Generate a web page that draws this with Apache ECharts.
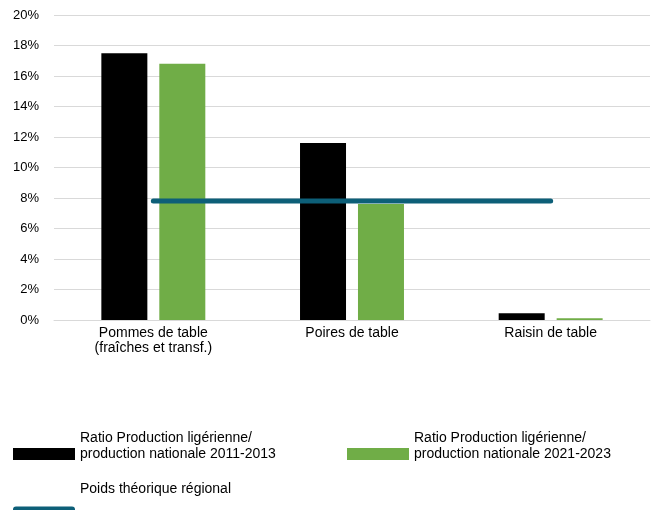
<!DOCTYPE html>
<html>
<head>
<meta charset="utf-8">
<script src="https://cdn.jsdelivr.net/npm/echarts@6/dist/echarts.min.js"></script>
<style>
  html, body { margin: 0; padding: 0; background: #fff; }
  #chart { width: 660px; height: 510px; }
</style>
</head>
<body>
<div id="chart"></div>
<script>
var categories = ['Pommes de table\n(fraîches et transf.)', 'Poires de table', 'Raisin de table'];
var ratio2011 = [17.5, 11.6, 0.45];
var ratio2021 = [16.8, 7.6, 0.12];
var poidsRegional = [7.8, 7.8, 7.8];
var yTicks = [0, 2, 4, 6, 8, 10, 12, 14, 16, 18, 20];

var font = 'Liberation Sans';
var teal = '#0d5f78';
var chart = echarts.init(document.getElementById('chart'));

var legendText = { fontFamily: font, fontSize: 14, color: '#000', lineHeight: 16 };

var option = {
  animation: false,
  grid: { left: 54, right: 10, top: 15, height: 305 },
  legend: [{
    data: [{ name: 's1', icon: 'rect' }], left: 8, top: 425, itemWidth: 62, itemHeight: 12, itemGap: 6,
    formatter: function () { return 'Ratio Production ligérienne/\nproduction nationale 2011-2013\n '; },
    textStyle: legendText
  }, {
    data: [{ name: 's2', icon: 'rect' }], left: 342, top: 425, itemWidth: 62, itemHeight: 12,
    formatter: function () { return 'Ratio Production ligérienne/\nproduction nationale 2021-2023\n '; },
    textStyle: legendText
  }, {
    data: [{ name: 's3', icon: 'roundRect', itemStyle: { color: teal, borderWidth: 0 } }],
    left: 8, top: 473, itemWidth: 62, itemHeight: 12,
    itemStyle: { color: teal },
    lineStyle: { width: 0 },
    formatter: function () { return 'Poids théorique régional\n \n '; },
    textStyle: Object.assign({}, legendText, { lineHeight: 23 })
  }],
  xAxis: {
    type: 'category',
    data: categories,
    axisTick: { show: false },
    axisLine: { lineStyle: { color: '#d9d9d9', width: 1 } },
    axisLabel: { fontFamily: font, fontSize: 14, color: '#000', lineHeight: 15, margin: 6 }
  },
  yAxis: {
    type: 'value',
    min: 0, max: 20, interval: 2,
    axisLabel: {
      fontFamily: font, fontSize: 13, color: '#000', margin: 15,
      formatter: function (v) { return yTicks.indexOf(v) >= 0 ? v + '%' : ''; }
    },
    splitLine: { lineStyle: { color: '#d9d9d9', width: 1 } }
  },
  series: [{
    name: 's1', type: 'bar', data: ratio2011, barWidth: 46, barGap: '26%',
    itemStyle: { color: '#000000' }
  }, {
    name: 's2', type: 'bar', data: ratio2021, barWidth: 46,
    itemStyle: { color: '#70ad47' }
  }, {
    name: 's3', type: 'line', data: poidsRegional, symbol: 'none',
    lineStyle: { color: teal, width: 5, cap: 'round' },
    itemStyle: { color: teal }
  }]
};
chart.setOption(option);
</script>
</body>
</html>
